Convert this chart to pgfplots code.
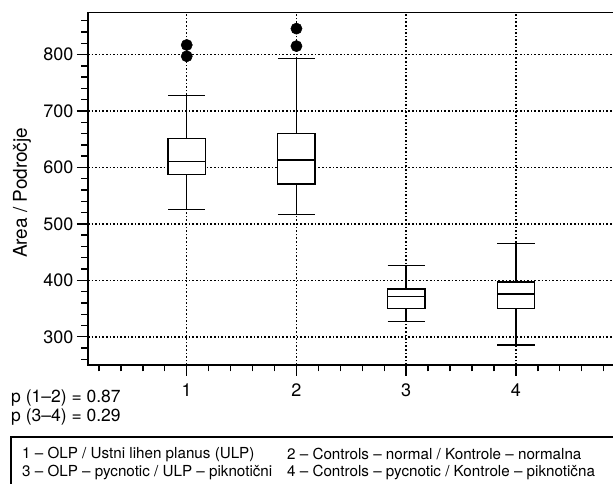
\documentclass[border=0pt]{standalone}
\usepackage{fontspec}
\setmainfont{TeX Gyre Heros}
\usepackage{pgfplots}
\pgfplotsset{compat=1.18}
\usepgfplotslibrary{statistics}

\begin{document}
\begin{tikzpicture}[x=1pt,y=1pt]
\useasboundingbox (0,0) rectangle (613,484);
\begin{axis}[
    at={(88pt,119pt)}, anchor=south west,
    scale only axis, width=526.6pt, height=352.75pt,
    xmin=0.1, xmax=4.9, ymin=250, ymax=875,
    xtick={1,2,3,4},
    minor xtick={0.2,0.4,0.6,0.8,1.2,1.4,1.6,1.8,2.2,2.4,2.6,2.8,3.2,3.4,3.6,3.8,4.2,4.4,4.6,4.8},
    ytick={300,400,...,800},
    minor ytick={260,280,320,340,360,380,420,440,460,480,520,540,560,580,620,640,660,680,720,740,760,780,820,840,860},
    xtick pos=bottom, ytick pos=left, tick align=outside,
    major tick length=11pt, minor tick length=6.5pt,
    every tick/.style={black, line width=1.4pt},
    axis line style={line width=1.4pt},
    grid=major,
    major grid style={black, line width=1.5pt, dash pattern=on 1.6pt off 2.0pt},
    /pgf/number format/assume math mode=true,
    tick label style={font=\fontsize{18}{21}\selectfont},
    xticklabel style={yshift=-4pt},
    ylabel={Area / Področje},
    ylabel style={font=\fontsize{19}{22}\selectfont, at={(axis description cs:-0.1253,0.488)}, anchor=center},
    boxplot/draw direction=y,
]
\addplot[boxplot prepared={draw position=1, lower whisker=526, lower quartile=588,
    median=611, upper quartile=651.5, upper whisker=728, box extend=0.34, whisker extend=0.34},
    draw=black, fill=white, line width=1.4pt, mark=*, mark size=5.6pt,
    mark options={fill=black, draw=black, line width=0.5pt}]
    table[row sep=\\, y index=0] {data\\ 817\\ 797\\};
\addplot[boxplot prepared={draw position=2, lower whisker=517, lower quartile=571,
    median=613.5, upper quartile=660, upper whisker=793, box extend=0.34, whisker extend=0.34},
    draw=black, fill=white, line width=1.4pt, mark=*, mark size=5.6pt,
    mark options={fill=black, draw=black, line width=0.5pt}]
    table[row sep=\\, y index=0] {data\\ 846\\ 815\\};
\addplot[boxplot prepared={draw position=3, lower whisker=327, lower quartile=350.5,
    median=371, upper quartile=385, upper whisker=426, box extend=0.34, whisker extend=0.34},
    draw=black, fill=white, line width=1.4pt]
    coordinates {};
\addplot[boxplot prepared={draw position=4, lower whisker=285.5, lower quartile=350.5,
    median=376, upper quartile=397, upper whisker=465, box extend=0.34, whisker extend=0.34},
    draw=black, fill=white, line width=1.4pt]
    coordinates {};
\end{axis}

% p values
\node[anchor=west, inner sep=0pt, font=\fontsize{17.5}{20}\selectfont] at (11,86) {p (1–2) = 0.87};
\node[anchor=west, inner sep=0pt, font=\fontsize{17.5}{20}\selectfont] at (11,67) {p (3–4) = 0.29};

% group key
\draw[line width=1.3pt] (11,-10) rectangle (625,47);
\begin{scope}[every node/.style={anchor=west, inner sep=0pt, font=\fontsize{15.2}{18}\selectfont}]
\node at (22,30) {1 – OLP / Ustni lihen planus (ULP)};
\node at (22,11.5) {3 – OLP – pycnotic / ULP – piknotični};
\node at (287,30) {2 – Controls – normal / Kontrole – normalna};
\node at (287,11.5) {4 – Controls – pycnotic / Kontrole – piknotična};
\end{scope}
\end{tikzpicture}
\end{document}
